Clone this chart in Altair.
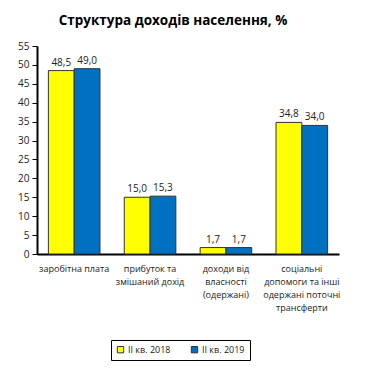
import altair as alt
import pandas as pd

categories = ["заробітна  плата", "прибуток та|змішаний дохід", "доходи від|власності|(одержані)", "соціальні|допомоги та інші|одержані  поточні|трансферти"]
series = ["II кв. 2018", "II кв. 2019"]
values_2018 = [48.5, 15.0, 1.7, 34.8]
values_2019 = [49.0, 15.3, 1.7, 34.0]
y_ticks = [0, 5, 10, 15, 20, 25, 30, 35, 40, 45, 50, 55]
colors = ["#FFFF00", "#0070C0"]

rows = []
for c, a, b in zip(categories, values_2018, values_2019):
    rows.append({"cat": c, "series": series[0], "v": a})
    rows.append({"cat": c, "series": series[1], "v": b})
df = pd.DataFrame(rows)

FONT = "Open Sans"

x = alt.X("cat:N", sort=categories, title=None,
          scale=alt.Scale(paddingInner=0.32, paddingOuter=0.15),
          axis=alt.Axis(labelExpr="split(datum.label, '|')", labelAngle=0, ticks=False,
                        labelFontSize=9, labelColor="#222", labelPadding=10,
                        labelLineHeight=13, domainColor="#000", domainWidth=2,
                        labelFont=FONT))
xo = alt.XOffset("series:N", sort=series)
y = alt.Y("v:Q", title=None, scale=alt.Scale(domain=[0, 55], nice=False),
          axis=alt.Axis(values=y_ticks, grid=False, tickSize=5, tickColor="#000",
                        domainColor="#000", domainWidth=2, labelFontSize=10,
                        labelColor="#222", labelPadding=3, labelFont=FONT,
                        labelOverlap=False, labelFlush=False, tickCount=12))

bars = alt.Chart(df).mark_bar(stroke="#333", strokeWidth=1).encode(
    x=x, xOffset=xo, y=y,
    color=alt.Color("series:N", sort=series, scale=alt.Scale(domain=series, range=colors),
                    legend=alt.Legend(title=None, orient="none", legendX=74, legendY=294,
                                      direction="horizontal", columns=2, symbolType="square",
                                      symbolSize=40, symbolStrokeColor="#333", symbolStrokeWidth=1,
                                      labelFontSize=9, labelFont=FONT, labelColor="#222",
                                      strokeColor="#000", padding=5, columnPadding=18,
                                      labelOffset=3)),
)

labels = alt.Chart(df).transform_calculate(
    lab="replace(format(datum.v, '.1f'), '.', ',')"
).mark_text(dy=-8, fontSize=10, font=FONT, color="#222").encode(
    x=x, xOffset=xo, y=y, text="lab:N"
)

chart = (bars + labels).properties(
    width=302, height=208,
    padding={"left": 29, "top": 38, "right": 20, "bottom": 109},
    autosize=alt.AutoSizeParams(type="none"),
    title=alt.TitleParams("Структура доходів населення, %", font=FONT, fontSize=13.5,
                          fontWeight="bold", color="#000", dx=-15, offset=14, anchor="middle"),
).configure_view(stroke=None)

chart.save("out.html", embed_options={"renderer": "svg", "actions": False})
